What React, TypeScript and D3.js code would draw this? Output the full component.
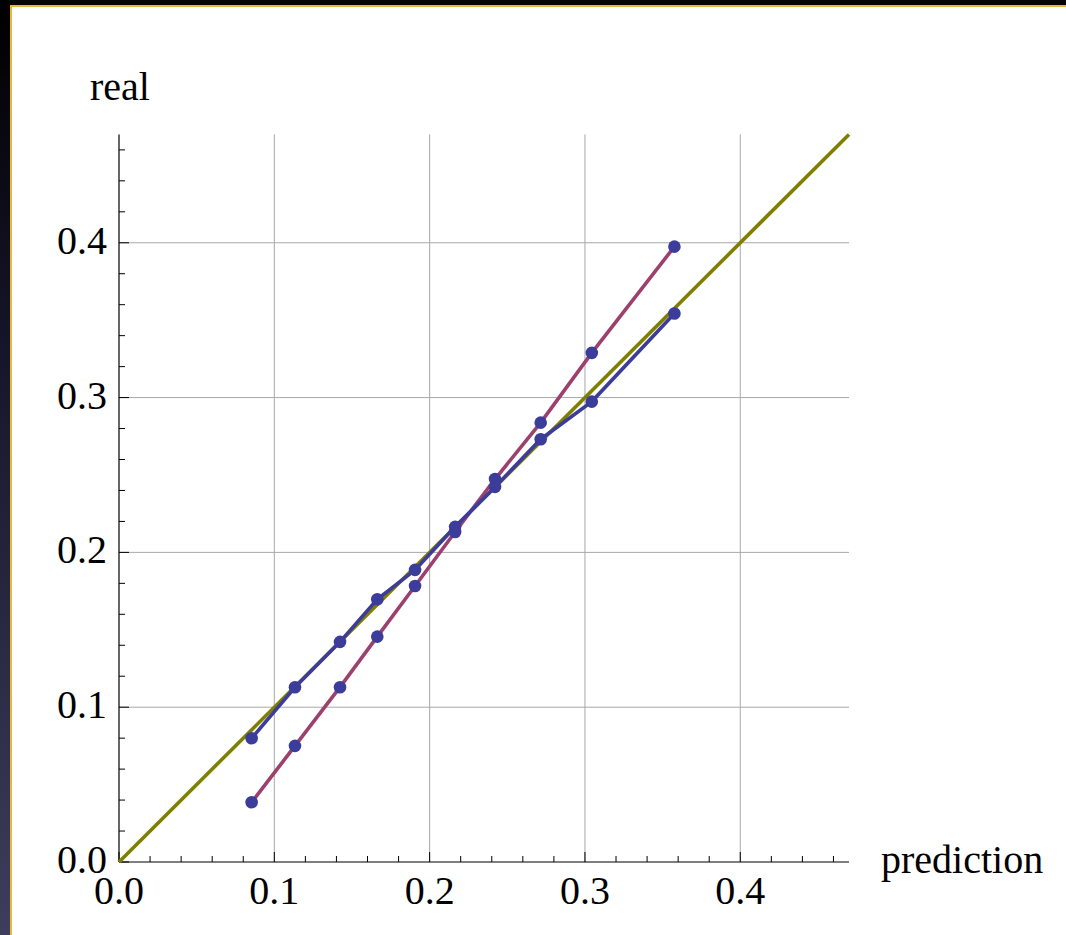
import React from 'react';
import * as d3 from 'd3';

const predictions = [0.0854, 0.1133, 0.1423, 0.1663, 0.1906, 0.2164, 0.2421, 0.2715, 0.3044, 0.3576];
const realBlue = [0.0799, 0.1129, 0.1422, 0.1697, 0.1887, 0.2165, 0.2423, 0.2731, 0.2974, 0.3543];
const realPurple = [0.0386, 0.075, 0.1129, 0.1456, 0.1783, 0.2132, 0.2474, 0.2838, 0.3289, 0.3975];
const majorTicks = [0, 0.1, 0.2, 0.3, 0.4];
const tickLabels = ['0.0', '0.1', '0.2', '0.3', '0.4'];
const diagonal = [0, 0.47];

const W = 1066;
const H = 935;
const FONT = '"Liberation Serif", "Times New Roman", serif';

export default function App() {
  const x = d3.scaleLinear().domain([0, 0.47]).range([119, 849]);
  const y = d3.scaleLinear().domain([0, 0.47]).range([862, 134.4]);
  const minorTicks = d3.range(0.02, 0.47, 0.02).filter((t) => Math.abs(Math.round(t * 10) / 10 - t) > 1e-6);
  const line = d3
    .line<[number, number]>()
    .x((d) => x(d[0]))
    .y((d) => y(d[1]));
  const bluePts: [number, number][] = predictions.map((p, i) => [p, realBlue[i]]);
  const purplePts: [number, number][] = predictions.map((p, i) => [p, realPurple[i]]);
  const diagPts: [number, number][] = diagonal.map((d) => [d, d]);

  return (
    <svg
      width={W}
      height={H}
      style={{ position: 'absolute', left: 0, top: 0, display: 'block' }}
      fontFamily={FONT}
    >
      <defs>
        <linearGradient id="side" x1="0" y1="0" x2="0" y2="1">
          <stop offset="0" stopColor="#000000" />
          <stop offset="0.35" stopColor="#141428" />
          <stop offset="1" stopColor="#3c3e5c" />
        </linearGradient>
      </defs>
      <rect x={0} y={0} width={W} height={H} fill="#050505" />
      <rect x={0} y={0} width={11} height={H} fill="url(#side)" />
      <rect x={10} y={5} width={W - 10} height={H - 5} fill="#eeb43c" />
      <rect x={12} y={7} width={W - 12} height={H - 7} fill="#ffffff" />

      {/* grid */}
      {majorTicks.slice(1).map((t) => (
        <g key={'g' + t}>
          <line x1={x(t)} x2={x(t)} y1={y(0)} y2={y(0.47)} stroke="#a8a8a8" strokeWidth={1} />
          <line x1={x(0)} x2={x(0.47)} y1={y(t)} y2={y(t)} stroke="#a8a8a8" strokeWidth={1} />
        </g>
      ))}

      {/* axes */}
      <line x1={x(0)} x2={x(0.47)} y1={y(0)} y2={y(0)} stroke="#000" strokeWidth={1.2} />
      <line x1={x(0)} x2={x(0)} y1={y(0)} y2={y(0.47)} stroke="#000" strokeWidth={1.2} />
      {majorTicks.map((t) => (
        <g key={'mt' + t}>
          <line x1={x(t)} x2={x(t)} y1={y(0)} y2={y(0) - 10} stroke="#000" strokeWidth={1} />
          <line x1={x(0)} x2={x(0) + 10} y1={y(t)} y2={y(t)} stroke="#000" strokeWidth={1} />
        </g>
      ))}
      {minorTicks.map((t) => (
        <g key={'mn' + t}>
          <line x1={x(t)} x2={x(t)} y1={y(0)} y2={y(0) - 6} stroke="#000" strokeWidth={1} />
          <line x1={x(0)} x2={x(0) + 6} y1={y(t)} y2={y(t)} stroke="#000" strokeWidth={1} />
        </g>
      ))}

      {/* tick labels */}
      {majorTicks.map((t, i) => (
        <text key={'xl' + t} x={x(t)} y={y(0) + 42} textAnchor="middle" fontSize={40} fill="#000">
          {tickLabels[i]}
        </text>
      ))}
      {majorTicks.map((t, i) => (
        <text key={'yl' + t} x={107} y={y(t) + 11} textAnchor="end" fontSize={40} fill="#000">
          {tickLabels[i]}
        </text>
      ))}
      <text x={90} y={100} fontSize={40} fill="#000">real</text>
      <text x={881} y={873} fontSize={40} fill="#000">prediction</text>

      {/* series */}
      <path d={line(diagPts) || ''} fill="none" stroke="#808000" strokeWidth={3.6} />
      <path d={line(purplePts) || ''} fill="none" stroke="#9c406e" strokeWidth={3.6} />
      <path d={line(bluePts) || ''} fill="none" stroke="#3c3c9a" strokeWidth={3.6} />
      {purplePts.map((d, i) => (
        <circle key={'pp' + i} cx={x(d[0])} cy={y(d[1])} r={6.3} fill="#3c3c9a" />
      ))}
      {bluePts.map((d, i) => (
        <circle key={'bp' + i} cx={x(d[0])} cy={y(d[1])} r={6.3} fill="#3c3c9a" />
      ))}
    </svg>
  );
}
